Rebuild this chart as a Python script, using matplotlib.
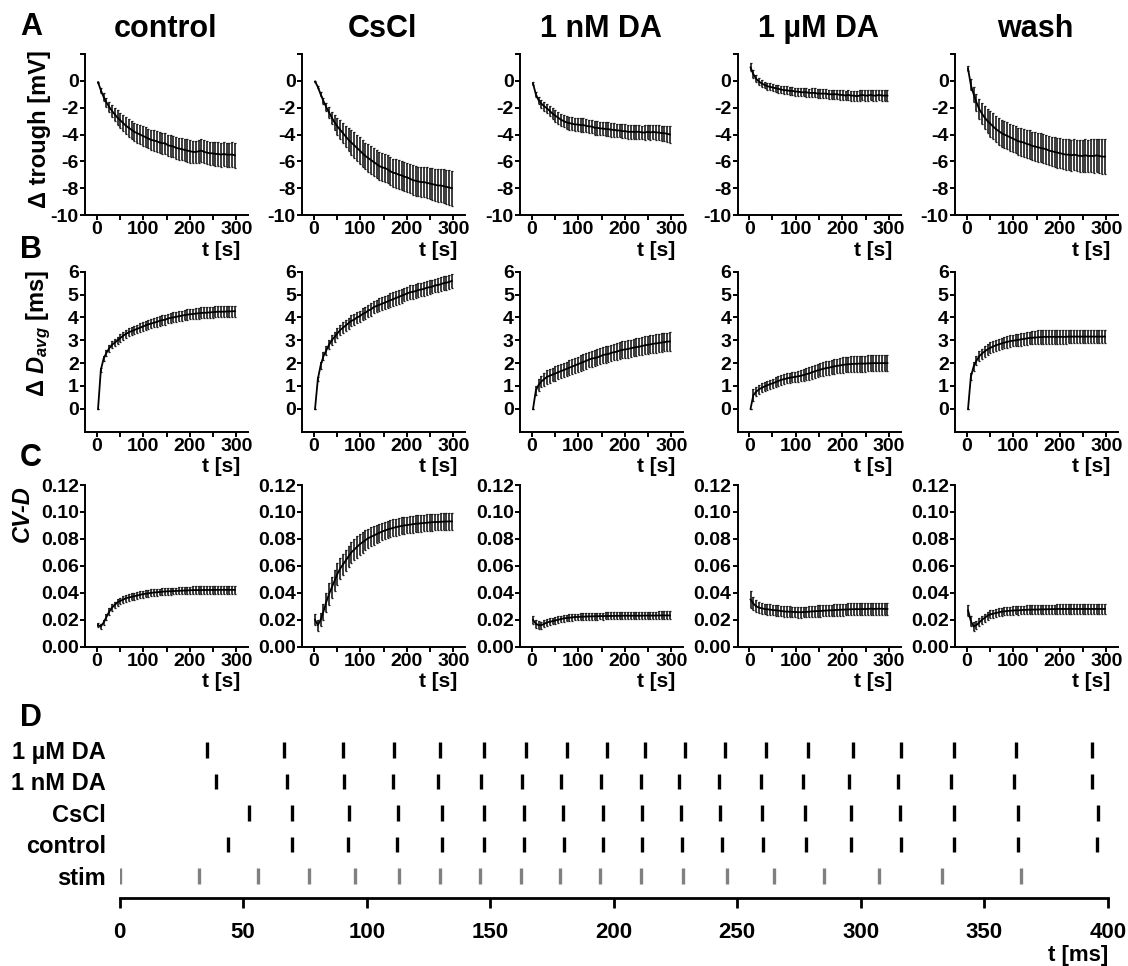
import numpy as np
import matplotlib
matplotlib.use('Agg')
from matplotlib import pyplot as plt

plt.rcParams['font.family'] = ['Liberation Sans', 'DejaVu Sans']
plt.rcParams['font.weight'] = 'bold'
plt.rcParams['axes.labelweight'] = 'bold'
plt.rcParams['mathtext.fontset'] = 'custom'
plt.rcParams['mathtext.rm'] = 'Liberation Sans:bold'
plt.rcParams['mathtext.it'] = 'Liberation Sans:italic:bold'
plt.rcParams['mathtext.bf'] = 'Liberation Sans:bold'

# sample times [s]
t_s = np.arange(3, 300, 6)

conditions = ['control', 'CsCl', '1 nM DA', '1 µM DA', 'wash']

# ---- A: delta trough [mV] ----
a_control = [-0.1, -0.7, -1.2, -1.6, -1.95, -2.25, -2.5, -2.75, -2.95, -3.15,
             -3.35, -3.5, -3.65, -3.8, -3.9, -4.0, -4.1, -4.2, -4.3, -4.4,
             -4.45, -4.5, -4.6, -4.65, -4.65, -4.8, -4.85, -4.9, -5.0, -5.05,
             -5.1, -5.15, -5.2, -5.25, -5.3, -5.3, -5.25, -5.2, -5.3, -5.35,
             -5.4, -5.4, -5.45, -5.45, -5.5, -5.45, -5.5, -5.5, -5.5, -5.55]
a_control_err = [0.05, 0.2, 0.3, 0.35, 0.4, 0.45, 0.5, 0.55, 0.58, 0.6,
                 0.62, 0.65, 0.67, 0.68, 0.7, 0.7, 0.72, 0.73, 0.74, 0.75,
                 0.76, 0.77, 0.78, 0.78, 0.79, 0.8, 0.8, 0.81, 0.82, 0.82,
                 0.83, 0.83, 0.84, 0.84, 0.85, 0.85, 0.86, 0.86, 0.86, 0.87,
                 0.87, 0.87, 0.88, 0.88, 0.89, 0.89, 0.9, 0.9, 0.91, 0.92]
a_cscl = [-0.05, -0.45, -1.0, -1.5, -1.95, -2.35, -2.75, -3.1, -3.4, -3.65,
          -3.9, -4.15, -4.4, -4.6, -4.8, -5.0, -5.2, -5.4, -5.6, -5.75,
          -5.9, -6.05, -6.2, -6.35, -6.45, -6.5, -6.6, -6.75, -6.85, -6.9,
          -7.0, -7.05, -7.15, -7.2, -7.3, -7.4, -7.45, -7.5, -7.55, -7.55,
          -7.6, -7.65, -7.7, -7.75, -7.8, -7.8, -7.85, -7.9, -7.95, -8.0]
a_cscl_err = [0.05, 0.1, 0.15, 0.25, 0.3, 0.4, 0.45, 0.55, 0.6, 0.7,
              0.75, 0.8, 0.85, 0.9, 0.95, 0.95, 1.0, 1.0, 1.0, 1.02,
              1.02, 1.03, 1.03, 1.04, 1.04, 1.05, 1.05, 1.05, 1.06, 1.06,
              1.07, 1.07, 1.08, 1.08, 1.09, 1.1, 1.1, 1.1, 1.12, 1.14,
              1.15, 1.17, 1.18, 1.2, 1.22, 1.23, 1.25, 1.26, 1.28, 1.3]
a_1nm = [-0.2, -1.0, -1.45, -1.7, -1.9, -2.05, -2.25, -2.45, -2.6, -2.75,
         -2.9, -3.0, -3.1, -3.15, -3.2, -3.25, -3.25, -3.3, -3.3, -3.35,
         -3.4, -3.4, -3.5, -3.5, -3.55, -3.55, -3.6, -3.6, -3.65, -3.65,
         -3.7, -3.7, -3.75, -3.75, -3.8, -3.8, -3.8, -3.8, -3.8, -3.85,
         -3.85, -3.8, -3.85, -3.8, -3.85, -3.85, -3.9, -3.9, -3.95, -4.0]
a_1nm_err = [0.1, 0.2, 0.25, 0.3, 0.35, 0.35, 0.4, 0.4, 0.45, 0.45,
             0.46, 0.47, 0.48, 0.48, 0.49, 0.5, 0.5, 0.5, 0.5, 0.5,
             0.5, 0.5, 0.5, 0.5, 0.5, 0.5, 0.5, 0.5, 0.5, 0.5,
             0.5, 0.5, 0.5, 0.5, 0.5, 0.5, 0.5, 0.5, 0.52, 0.52,
             0.53, 0.53, 0.54, 0.54, 0.55, 0.55, 0.56, 0.57, 0.58, 0.6]
a_1um = [1.0, 0.5, 0.15, -0.05, -0.2, -0.3, -0.4, -0.45, -0.5, -0.55,
         -0.6, -0.65, -0.7, -0.7, -0.75, -0.75, -0.8, -0.8, -0.85, -0.85,
         -0.85, -0.9, -0.9, -0.9, -0.95, -0.95, -0.95, -0.95, -1.0, -1.0,
         -1.0, -1.0, -1.05, -1.05, -1.1, -1.05, -1.1, -1.1, -1.15, -1.1,
         -1.05, -1.1, -1.1, -1.05, -1.1, -1.1, -1.05, -1.1, -1.1, -1.1]
a_1um_err = [0.3, 0.3, 0.25, 0.25, 0.25, 0.25, 0.26, 0.26, 0.27, 0.27,
             0.28, 0.28, 0.28, 0.29, 0.29, 0.3, 0.3, 0.3, 0.31, 0.31,
             0.32, 0.32, 0.33, 0.33, 0.33, 0.34, 0.34, 0.34, 0.35, 0.35,
             0.35, 0.35, 0.36, 0.36, 0.36, 0.37, 0.37, 0.37, 0.38, 0.38,
             0.38, 0.39, 0.39, 0.39, 0.4, 0.4, 0.4, 0.4, 0.41, 0.42]
a_wash = [0.9, -0.3, -1.0, -1.6, -2.1, -2.45, -2.75, -3.0, -3.2, -3.4,
          -3.6, -3.75, -3.9, -4.0, -4.1, -4.2, -4.3, -4.4, -4.5, -4.55,
          -4.6, -4.7, -4.75, -4.85, -4.9, -4.95, -5.0, -5.05, -5.1, -5.2,
          -5.25, -5.3, -5.35, -5.4, -5.45, -5.5, -5.5, -5.55, -5.5, -5.55,
          -5.6, -5.6, -5.55, -5.6, -5.6, -5.6, -5.55, -5.6, -5.65, -5.65]
a_wash_err = [0.2, 0.4, 0.55, 0.65, 0.75, 0.8, 0.85, 0.9, 0.95, 0.97,
              0.98, 1.0, 1.0, 1.0, 1.0, 1.0, 1.0, 1.01, 1.02, 1.03,
              1.04, 1.05, 1.05, 1.06, 1.06, 1.07, 1.08, 1.08, 1.09, 1.1,
              1.1, 1.1, 1.11, 1.12, 1.12, 1.13, 1.14, 1.15, 1.16, 1.17,
              1.18, 1.2, 1.21, 1.22, 1.23, 1.24, 1.25, 1.26, 1.28, 1.3]

# ---- B: delta D_avg [ms] ----
b_control = [0.0, 1.7, 2.2, 2.45, 2.65, 2.8, 2.9, 3.0, 3.1, 3.2,
             3.28, 3.35, 3.4, 3.45, 3.5, 3.55, 3.6, 3.65, 3.7, 3.73,
             3.77, 3.8, 3.85, 3.88, 3.9, 3.95, 3.98, 4.0, 4.03, 4.05,
             4.08, 4.1, 4.12, 4.14, 4.15, 4.17, 4.18, 4.2, 4.2, 4.21,
             4.22, 4.23, 4.24, 4.25, 4.25, 4.25, 4.26, 4.26, 4.27, 4.27]
b_control_err = [0.0, 0.1, 0.12, 0.14, 0.15, 0.15, 0.16, 0.16, 0.17, 0.17,
                 0.18, 0.18, 0.18, 0.19, 0.19, 0.19, 0.2, 0.2, 0.2, 0.2,
                 0.2, 0.2, 0.21, 0.21, 0.21, 0.21, 0.21, 0.22, 0.22, 0.22,
                 0.22, 0.22, 0.23, 0.23, 0.23, 0.23, 0.23, 0.24, 0.24, 0.24,
                 0.24, 0.24, 0.24, 0.25, 0.25, 0.25, 0.25, 0.25, 0.25, 0.25]
b_cscl = [0.0, 1.3, 1.9, 2.3, 2.55, 2.8, 3.0, 3.15, 3.3, 3.45,
          3.55, 3.65, 3.75, 3.85, 3.9, 4.0, 4.05, 4.15, 4.2, 4.3,
          4.35, 4.45, 4.5, 4.55, 4.6, 4.65, 4.7, 4.75, 4.8, 4.85,
          4.9, 4.95, 5.0, 5.05, 5.1, 5.12, 5.15, 5.2, 5.22, 5.25,
          5.3, 5.32, 5.35, 5.4, 5.42, 5.45, 5.5, 5.52, 5.55, 5.6]
b_cscl_err = [0.0, 0.1, 0.15, 0.18, 0.2, 0.2, 0.21, 0.21, 0.22, 0.22,
              0.23, 0.23, 0.24, 0.24, 0.24, 0.25, 0.25, 0.25, 0.26, 0.26,
              0.27, 0.27, 0.28, 0.28, 0.29, 0.29, 0.3, 0.3, 0.3, 0.3,
              0.3, 0.3, 0.3, 0.3, 0.3, 0.3, 0.3, 0.3, 0.3, 0.3,
              0.3, 0.3, 0.3, 0.3, 0.3, 0.3, 0.3, 0.3, 0.3, 0.3]
b_1nm = [0.0, 0.8, 1.05, 1.2, 1.3, 1.4, 1.45, 1.5, 1.55, 1.6,
         1.65, 1.7, 1.75, 1.8, 1.85, 1.9, 1.95, 2.0, 2.05, 2.1,
         2.15, 2.2, 2.22, 2.25, 2.3, 2.35, 2.38, 2.4, 2.45, 2.48,
         2.5, 2.55, 2.58, 2.6, 2.62, 2.65, 2.68, 2.7, 2.72, 2.75,
         2.78, 2.8, 2.82, 2.85, 2.86, 2.88, 2.9, 2.92, 2.94, 2.95]
b_1nm_err = [0.0, 0.2, 0.25, 0.25, 0.28, 0.3, 0.3, 0.3, 0.31, 0.31,
             0.32, 0.32, 0.32, 0.33, 0.33, 0.33, 0.33, 0.34, 0.34, 0.34,
             0.34, 0.35, 0.35, 0.35, 0.35, 0.35, 0.36, 0.36, 0.36, 0.36,
             0.37, 0.37, 0.37, 0.37, 0.38, 0.38, 0.38, 0.38, 0.38, 0.39,
             0.39, 0.39, 0.39, 0.39, 0.4, 0.4, 0.4, 0.4, 0.4, 0.4]
b_1um = [0.0, 0.6, 0.75, 0.85, 0.92, 0.98, 1.03, 1.08, 1.12, 1.17,
         1.22, 1.27, 1.3, 1.33, 1.36, 1.38, 1.4, 1.42, 1.45, 1.48,
         1.52, 1.55, 1.6, 1.64, 1.68, 1.72, 1.75, 1.78, 1.8, 1.83,
         1.86, 1.88, 1.9, 1.92, 1.94, 1.95, 1.96, 1.97, 1.97, 1.98,
         1.98, 1.98, 1.99, 1.99, 2.0, 2.0, 2.0, 2.0, 2.0, 2.0]
b_1um_err = [0.0, 0.25, 0.2, 0.2, 0.2, 0.2, 0.2, 0.2, 0.2, 0.21,
             0.21, 0.21, 0.22, 0.22, 0.22, 0.22, 0.22, 0.23, 0.24, 0.25,
             0.26, 0.27, 0.28, 0.28, 0.29, 0.29, 0.3, 0.3, 0.31, 0.31,
             0.32, 0.32, 0.32, 0.33, 0.33, 0.33, 0.34, 0.34, 0.34, 0.35,
             0.35, 0.35, 0.35, 0.35, 0.35, 0.35, 0.35, 0.35, 0.35, 0.35]
b_wash = [0.0, 1.4, 1.85, 2.1, 2.3, 2.42, 2.52, 2.6, 2.67, 2.73,
          2.78, 2.82, 2.86, 2.9, 2.93, 2.96, 2.98, 3.0, 3.02, 3.04,
          3.06, 3.08, 3.1, 3.11, 3.12, 3.13, 3.14, 3.15, 3.15, 3.15,
          3.15, 3.15, 3.15, 3.15, 3.15, 3.15, 3.16, 3.16, 3.16, 3.16,
          3.16, 3.16, 3.16, 3.16, 3.16, 3.16, 3.16, 3.16, 3.16, 3.16]
b_wash_err = [0.0, 0.15, 0.2, 0.2, 0.22, 0.22, 0.23, 0.23, 0.24, 0.24,
              0.24, 0.25, 0.25, 0.25, 0.25, 0.25, 0.25, 0.26, 0.26, 0.27,
              0.27, 0.28, 0.28, 0.29, 0.29, 0.3, 0.3, 0.3, 0.3, 0.3,
              0.3, 0.3, 0.3, 0.3, 0.3, 0.3, 0.3, 0.3, 0.3, 0.3,
              0.3, 0.3, 0.3, 0.3, 0.3, 0.3, 0.3, 0.3, 0.3, 0.3]

# ---- C: CV-D ----
c_control = [0.016, 0.015, 0.018, 0.022, 0.026, 0.029, 0.031, 0.033, 0.034, 0.035,
             0.036, 0.0365, 0.037, 0.0375, 0.038, 0.0385, 0.039, 0.0393, 0.0396, 0.04,
             0.0402, 0.0404, 0.0406, 0.0408, 0.041, 0.0411, 0.0412, 0.0413, 0.0414, 0.0415,
             0.0416, 0.0417, 0.0418, 0.0419, 0.042, 0.042, 0.042, 0.042, 0.0421, 0.0421,
             0.0421, 0.0421, 0.0422, 0.0422, 0.0422, 0.0422, 0.0422, 0.0422, 0.0422, 0.0422]
c_control_err = [0.0015, 0.0018, 0.002, 0.0022, 0.0024, 0.0025, 0.0025, 0.0025, 0.0025, 0.0025,
                 0.0025, 0.0025, 0.0025, 0.0025, 0.0025, 0.0025, 0.0025, 0.0025, 0.0025, 0.0025,
                 0.0025, 0.0025, 0.0025, 0.0025, 0.0025, 0.0025, 0.0025, 0.0025, 0.0025, 0.0025,
                 0.0026, 0.0026, 0.0027, 0.0027, 0.0027, 0.0028, 0.0028, 0.0028, 0.0028, 0.0029,
                 0.0029, 0.0029, 0.0029, 0.003, 0.003, 0.003, 0.003, 0.003, 0.003, 0.003]
c_cscl = [0.02, 0.016, 0.02, 0.026, 0.033, 0.039, 0.044, 0.049, 0.054, 0.058,
          0.061, 0.064, 0.067, 0.07, 0.072, 0.074, 0.076, 0.0775, 0.079, 0.0805,
          0.0815, 0.0825, 0.0835, 0.0845, 0.0855, 0.0862, 0.087, 0.0876, 0.0882, 0.0887,
          0.0892, 0.0896, 0.09, 0.0903, 0.0906, 0.0909, 0.0912, 0.0914, 0.0916, 0.0918,
          0.092, 0.0922, 0.0924, 0.0925, 0.0926, 0.0927, 0.0928, 0.0929, 0.093, 0.093]
c_cscl_err = [0.004, 0.004, 0.005, 0.006, 0.007, 0.008, 0.008, 0.008, 0.008, 0.008,
              0.008, 0.008, 0.008, 0.008, 0.008, 0.008, 0.0078, 0.0076, 0.0074, 0.0072,
              0.007, 0.007, 0.0068, 0.0068, 0.0066, 0.0066, 0.0065, 0.0065, 0.0064, 0.0064,
              0.0063, 0.0063, 0.0062, 0.0062, 0.0062, 0.0062, 0.0062, 0.0062, 0.0062, 0.0062,
              0.0062, 0.0062, 0.0062, 0.0062, 0.0062, 0.0062, 0.0062, 0.0062, 0.0062, 0.0062]
c_1nm = [0.02, 0.017, 0.016, 0.016, 0.017, 0.018, 0.0185, 0.019, 0.0195, 0.02,
         0.0205, 0.021, 0.0213, 0.0215, 0.0218, 0.022, 0.0221, 0.0222, 0.0223, 0.0224,
         0.0225, 0.0225, 0.0226, 0.0226, 0.0227, 0.0227, 0.0228, 0.0228, 0.0228, 0.0229,
         0.0229, 0.0229, 0.023, 0.023, 0.023, 0.023, 0.023, 0.023, 0.023, 0.023,
         0.0231, 0.0231, 0.0231, 0.0231, 0.0231, 0.0232, 0.0232, 0.0232, 0.0232, 0.0232]
c_1nm_err = [0.003, 0.003, 0.0028, 0.0026, 0.0025, 0.0025, 0.0025, 0.0025, 0.0025, 0.0025,
             0.0025, 0.0025, 0.0025, 0.0025, 0.0025, 0.0025, 0.0025, 0.0025, 0.0025, 0.0025,
             0.0025, 0.0025, 0.0025, 0.0025, 0.0025, 0.0026, 0.0026, 0.0026, 0.0026, 0.0026,
             0.0027, 0.0027, 0.0027, 0.0027, 0.0027, 0.0028, 0.0028, 0.0028, 0.0028, 0.0028,
             0.0029, 0.0029, 0.0029, 0.0029, 0.0029, 0.003, 0.003, 0.003, 0.003, 0.003]
c_1um = [0.035, 0.032, 0.03, 0.029, 0.0285, 0.028, 0.0278, 0.0275, 0.0272, 0.027,
         0.0268, 0.0265, 0.0262, 0.026, 0.026, 0.0258, 0.0258, 0.0256, 0.0256, 0.0257,
         0.0258, 0.026, 0.0262, 0.0263, 0.0265, 0.0265, 0.0267, 0.0268, 0.027, 0.027,
         0.0272, 0.0273, 0.0274, 0.0275, 0.0276, 0.0277, 0.0278, 0.0278, 0.028, 0.0278,
         0.0279, 0.028, 0.028, 0.0282, 0.028, 0.0281, 0.0282, 0.0281, 0.028, 0.028]
c_1um_err = [0.006, 0.005, 0.0045, 0.004, 0.004, 0.004, 0.004, 0.004, 0.004, 0.004,
             0.004, 0.004, 0.004, 0.004, 0.004, 0.004, 0.004, 0.004, 0.004, 0.004,
             0.004, 0.0041, 0.0041, 0.0041, 0.0042, 0.0042, 0.0042, 0.0042, 0.0043, 0.0043,
             0.0043, 0.0043, 0.0043, 0.0044, 0.0044, 0.0044, 0.0044, 0.0044, 0.0044, 0.0045,
             0.0045, 0.0045, 0.0045, 0.0045, 0.0045, 0.0045, 0.0045, 0.0045, 0.0045, 0.0045]
c_wash = [0.027, 0.019, 0.015, 0.016, 0.018, 0.02, 0.0215, 0.023, 0.024, 0.0245,
          0.025, 0.0255, 0.026, 0.0262, 0.0265, 0.0267, 0.0268, 0.027, 0.027, 0.0272,
          0.0273, 0.0274, 0.0275, 0.0275, 0.0276, 0.0276, 0.0277, 0.0277, 0.0278, 0.0278,
          0.0279, 0.0279, 0.028, 0.028, 0.028, 0.028, 0.028, 0.028, 0.028, 0.028,
          0.028, 0.028, 0.028, 0.028, 0.028, 0.028, 0.028, 0.028, 0.028, 0.028]
c_wash_err = [0.004, 0.004, 0.003, 0.003, 0.003, 0.003, 0.003, 0.003, 0.003, 0.003,
              0.003, 0.003, 0.003, 0.003, 0.0031, 0.0031, 0.0031, 0.0031, 0.0032, 0.0032,
              0.0032, 0.0032, 0.0032, 0.0033, 0.0033, 0.0033, 0.0033, 0.0033, 0.0034, 0.0034,
              0.0034, 0.0034, 0.0034, 0.0034, 0.0035, 0.0035, 0.0035, 0.0035, 0.0035, 0.0035,
              0.0035, 0.0035, 0.0035, 0.0035, 0.0035, 0.0035, 0.0035, 0.0035, 0.0035, 0.0035]

# ---- D: spike times [ms] ----
d_labels = ['stim', 'control', 'CsCl', '1 nM DA', '1 µM DA']
stim_ms = [0, 32.1, 56.1, 76.6, 95.3, 113.0, 129.7, 146.0, 162.3, 178.4,
           194.6, 210.9, 227.9, 246.0, 265.0, 285.0, 307.3, 333.0, 365.0]
control_ms = [44.0, 69.7, 92.5, 112.4, 130.5, 147.6, 163.8, 179.9, 195.8, 211.6,
              227.5, 243.7, 260.4, 277.7, 296.2, 316.2, 337.8, 363.7, 395.8]
cscl_ms = [52.2, 69.9, 92.8, 112.6, 130.5, 147.5, 163.7, 179.6, 195.5, 211.3,
           227.1, 243.2, 260.0, 277.3, 296.0, 315.9, 337.8, 363.7, 396.2]
da1nm_ms = [38.9, 67.6, 90.8, 110.6, 129.0, 146.2, 162.8, 178.8, 194.9, 210.9,
            226.6, 242.8, 259.5, 276.8, 295.3, 315.0, 336.6, 362.2, 393.8]
da1um_ms = [35.2, 66.6, 90.5, 111.1, 129.8, 147.6, 164.5, 181.1, 197.2, 212.8,
            228.9, 245.1, 261.7, 278.8, 297.0, 316.3, 337.8, 362.8, 393.8]

rows = [
    ([a_control, a_cscl, a_1nm, a_1um, a_wash],
     [a_control_err, a_cscl_err, a_1nm_err, a_1um_err, a_wash_err]),
    ([b_control, b_cscl, b_1nm, b_1um, b_wash],
     [b_control_err, b_cscl_err, b_1nm_err, b_1um_err, b_wash_err]),
    ([c_control, c_cscl, c_1nm, c_1um, c_wash],
     [c_control_err, c_cscl_err, c_1nm_err, c_1um_err, c_wash_err]),
]

W, H = 1128, 966
fig = plt.figure(figsize=(W / 100, H / 100), dpi=100)

col_left = [85, 302, 520, 737.5, 955]
col_w = 163
row_px = [(54, 215), (271.7, 431.7), (485, 646.7)]

ylims = [(-10, 2), (-1, 6), (0, 0.12)]
yticks = [np.arange(-10, 3, 2), np.arange(0, 7, 1), np.arange(0, 0.121, 0.02)]

for r, (top, bot) in enumerate(row_px):
    means, errs = rows[r]
    for c in range(5):
        ax = fig.add_axes([col_left[c] / W, 1 - bot / H, col_w / W, (bot - top) / H])
        ax.errorbar(t_s, means[c], yerr=errs[c], color='black', lw=1.3,
                    ecolor='#1a1a1a', elinewidth=1.2, capsize=1.0, capthick=0.9)
        ax.set_xlim(-25, 325)
        ax.set_ylim(*ylims[r])
        ax.set_xticks([0, 100, 200, 300])
        ax.set_xticks([50, 150, 250], minor=True)
        ax.set_yticks(yticks[r])
        if r == 0:
            ax.set_yticklabels([str(int(v)) if v <= 0 else '' for v in yticks[r]])
        elif r == 2:
            ax.set_yticklabels(['%.2f' % v for v in yticks[r]])
        for s in ['top', 'right']:
            ax.spines[s].set_visible(False)
        for s in ['left', 'bottom']:
            ax.spines[s].set_linewidth(1.4)
        ax.tick_params(axis='both', which='both', direction='out', width=1.4,
                       length=3.5, labelsize=14, pad=1)
        ax.text(1 - 8 / col_w, -35 / (bot - top), 't [s]', transform=ax.transAxes,
                ha='right', va='center', fontsize=15)
        if r == 0:
            x_mid = (col_left[c] + 11.6 + 69) / W
            fig.text(x_mid, 1 - 37 / H, conditions[c], ha='center', va='baseline',
                     fontsize=22)

# y labels of the first column
fig.text(40 / W, 1 - 50 / H, 'Δ trough [mV]', rotation=90, ha='center', va='top', fontsize=17)
fig.text(39 / W, 1 - 270 / H, r'Δ $D_{avg}$ [ms]', rotation=90, ha='center', va='top', fontsize=17)
fig.text(22 / W, 1 - 485 / H, 'CV-D', rotation=90, ha='center', va='top', fontsize=17,
         fontstyle='italic')

# panel letters
for letter, yb in zip('ABCD', [35, 258, 466, 726]):
    fig.text(20 / W, 1 - yb / H, letter, ha='left', va='baseline', fontsize=22)

# ---- D raster ----
axd = fig.add_axes([119.7 / W, 1 - 898 / H, (1107.7 - 119.7) / W, 163.8 / H])
trains = [stim_ms, control_ms, cscl_ms, da1nm_ms, da1um_ms]
colors = ['#808080', 'black', 'black', 'black', 'black']
axd.eventplot(trains, lineoffsets=[0, 1, 2, 3, 4], linelengths=0.5,
              linewidths=2.4, colors=colors)
axd.set_xlim(0, 400)
axd.set_ylim(-0.7, 4.5)
axd.set_xticks(np.arange(0, 401, 50))
axd.set_yticks([0, 1, 2, 3, 4])
axd.set_yticklabels(d_labels)
for s in ['top', 'right', 'left']:
    axd.spines[s].set_visible(False)
axd.spines['bottom'].set_linewidth(2)
axd.tick_params(axis='x', direction='out', width=2, length=7, labelsize=16, pad=10)
axd.tick_params(axis='y', length=0, labelsize=17, pad=10)
fig.text(1108 / W, 1 - 956 / H, 't [ms]', ha='right', va='center', fontsize=16)

fig.savefig('out.png', dpi=100)
